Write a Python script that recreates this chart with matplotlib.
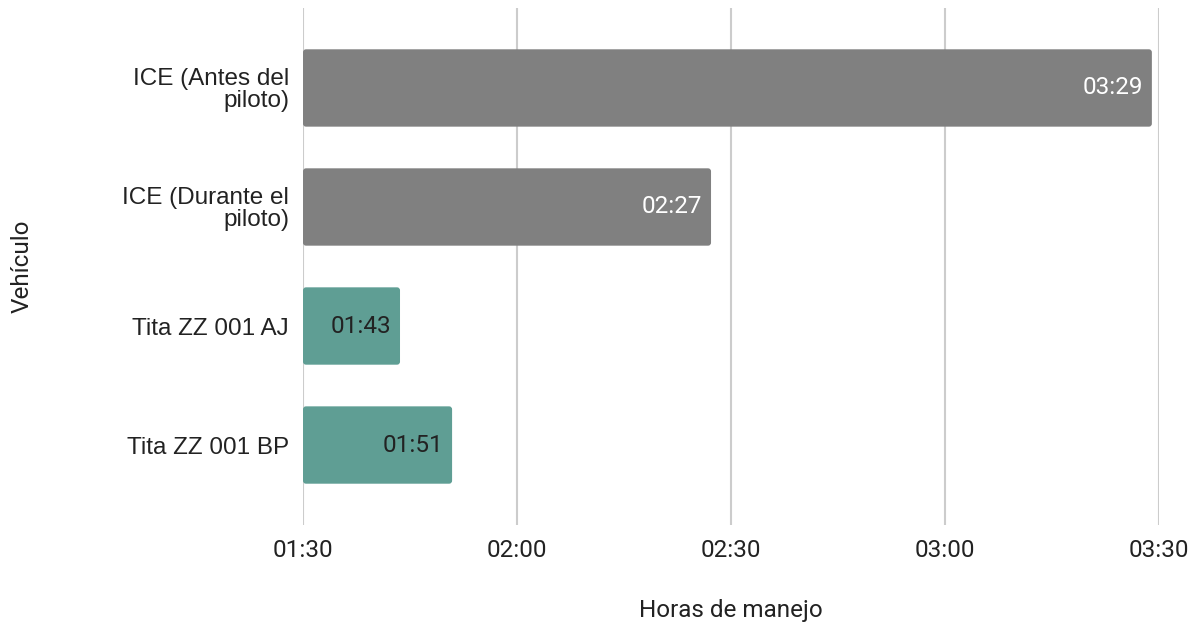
import matplotlib
matplotlib.use("Agg")
import matplotlib.pyplot as plt
from matplotlib.patches import FancyBboxPatch

categories = ["ICE (Antes del\npiloto)", "ICE (Durante el\npiloto)", "Tita ZZ 001 AJ", "Tita ZZ 001 BP"]
labels = ["03:29", "02:27", "01:43", "01:51"]
values_min = [209.0, 147.2, 103.6, 110.9]
bar_colors = ["#808080", "#808080", "#5f9e94", "#5f9e94"]
label_colors = ["#ffffff", "#ffffff", "#222222", "#222222"]
xticks_min = [90, 120, 150, 180, 210]
xtick_labels = ["01:30", "02:00", "02:30", "03:00", "03:30"]

W, H = 1194, 624
fig = plt.figure(figsize=(W / 100, H / 100), dpi=100)
left, right, top, bottom = 303, 1159, 8, 525
ax = fig.add_axes([left / W, 1 - bottom / H, (right - left) / W, (bottom - top) / H])

xmin, xmax = 90, 210
ymin, ymax = -0.672, 3.672
ax.set_xlim(xmin, xmax)
ax.set_ylim(ymax, ymin)

px_per_x = (right - left) / (xmax - xmin)
px_per_y = (bottom - top) / (ymax - ymin)
bh = 0.65
rad_px = 3
bars = ax.barh(range(len(categories)), [v - xmin for v in values_min], left=xmin,
               height=bh, color=bar_colors)
for b, c in zip(bars, bar_colors):
    b.set_visible(False)
    x0, y0 = b.get_x(), b.get_y()
    w, h = b.get_width(), b.get_height()
    p = FancyBboxPatch((x0, y0), w, h,
                       boxstyle=f"round,pad=0,rounding_size={rad_px / px_per_x}",
                       mutation_aspect=px_per_x / px_per_y,
                       facecolor=c, edgecolor="none", zorder=2)
    ax.add_patch(p)

FS = 17.5
for i, (v, lab, lc) in enumerate(zip(values_min, labels, label_colors)):
    ax.text(v - 9 / px_per_x, i, lab, ha="right", va="center", color=lc,
            fontsize=FS, family="Roboto", zorder=3)

ax.set_xticks(xticks_min)
ax.set_xticklabels(xtick_labels, fontsize=FS, family="Roboto", color="#222222")
ax.set_yticks(range(len(categories)))
ax.set_yticklabels(categories, fontsize=FS, family="Liberation Sans", color="#222222",
                   ha="right", multialignment="right", linespacing=1.0)
ax.tick_params(axis="both", length=0)
ax.tick_params(axis="x", pad=10)
ax.tick_params(axis="y", pad=10)
ax.grid(axis="x", color="#cccccc", linewidth=1.5, zorder=0)
ax.set_axisbelow(True)
for s in ax.spines.values():
    s.set_visible(False)

ax.set_xlabel("Horas de manejo", fontsize=FS, family="Roboto", color="#222222")
ax.xaxis.set_label_coords(0.5, -(610 - bottom) / (bottom - top), transform=None) if False else None
ax.xaxis.set_label_coords(0.5, -(610 - bottom) / (bottom - top))
ax.xaxis.label.set_va("center")
ax.set_ylabel("Vehículo", fontsize=FS, family="Roboto", color="#222222")
ax.yaxis.set_label_coords(-(left - 22) / (right - left), 0.5)
ax.yaxis.label.set_va("center")

fig.savefig("out.png", dpi=100)
